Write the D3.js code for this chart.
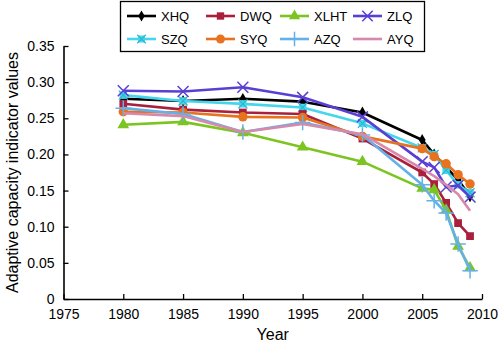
<!DOCTYPE html>
<html>
<head>
<meta charset="utf-8">
<script src="https://cdn.jsdelivr.net/npm/d3@7"></script>
<style>
  body { margin: 0; background: #fff; }
  text { font-family: "Liberation Sans", Arial, sans-serif; }
</style>
</head>
<body>
<div id="chart"></div>
<script>
// years on the x axis
const years = [1980, 1985, 1990, 1995, 2000, 2005, 2006, 2007, 2008, 2009];

// indicator values per region
const XHQ  = [0.277, 0.274, 0.277, 0.273, 0.258, 0.220, 0.200, 0.182, 0.165, 0.142];
const DWQ  = [0.270, 0.262, 0.258, 0.256, 0.222, 0.175, 0.159, 0.133, 0.105, 0.087];
const XLHT = [0.241, 0.245, 0.230, 0.210, 0.190, 0.153, 0.151, 0.123, 0.073, 0.043];
const ZLQ  = [0.288, 0.287, 0.293, 0.279, 0.252, 0.190, 0.182, 0.155, 0.157, 0.141];
const SZQ  = [0.282, 0.274, 0.270, 0.265, 0.243, 0.209, 0.200, 0.178, 0.158, 0.147];
const SYQ  = [0.259, 0.258, 0.252, 0.251, 0.225, 0.208, 0.197, 0.187, 0.172, 0.159];
const AZQ  = [0.264, 0.256, 0.231, 0.244, 0.227, 0.158, 0.136, 0.119, 0.076, 0.039];
const AYQ  = [0.257, 0.253, 0.231, 0.242, 0.228, 0.180, 0.170, 0.158, 0.145, 0.122];

const xTicks = [1975, 1980, 1985, 1990, 1995, 2000, 2005, 2010];
const yTicks = [0, 0.05, 0.10, 0.15, 0.20, 0.25, 0.30, 0.35];

const series = [
  { name: "XHQ",  values: XHQ,  color: "#000000", marker: "diamond" },
  { name: "SZQ",  values: SZQ,  color: "#45d6ee", marker: "boxx" },
  { name: "ZLQ",  values: ZLQ,  color: "#5a3fd4", marker: "times" },
  { name: "DWQ",  values: DWQ,  color: "#a8203c", marker: "square" },
  { name: "SYQ",  values: SYQ,  color: "#e8731f", marker: "circle" },
  { name: "XLHT", values: XLHT, color: "#7cc41f", marker: "triangle" },
  { name: "AZQ",  values: AZQ,  color: "#63b1e8", marker: "plus" },
  { name: "AYQ",  values: AYQ,  color: "#d888aa", marker: "none" }
];

// legend layout order (two rows of four)
const legendOrder = ["XHQ", "DWQ", "XLHT", "ZLQ", "SZQ", "SYQ", "AZQ", "AYQ"];

const width = 500, height = 345;
const margin = { top: 46, right: 18, bottom: 46, left: 63.5 };

const svg = d3.select("#chart").append("svg")
  .attr("width", width)
  .attr("height", height);

const x = d3.scaleLinear().domain([1975, 2010]).range([margin.left, width - margin.right]);
const y = d3.scaleLinear().domain([0, 0.35]).range([height - margin.bottom, margin.top]);

// axes, ticks pointing inward
const xAxis = svg.append("g")
  .attr("transform", `translate(0,${height - margin.bottom})`)
  .call(d3.axisBottom(x).tickValues(xTicks).tickFormat(d3.format("d")).tickSizeInner(-5).tickSizeOuter(0).tickPadding(10));
const yAxis = svg.append("g")
  .attr("transform", `translate(${margin.left},0)`)
  .call(d3.axisLeft(y).tickValues(yTicks).tickFormat(d => d === 0 ? "0" : d3.format(".2f")(d)).tickSizeInner(-5).tickSizeOuter(0).tickPadding(9));

[xAxis, yAxis].forEach(g => {
  g.select(".domain").attr("stroke", "#000").attr("stroke-width", 1.6);
  g.selectAll(".tick line").attr("stroke", "#000").attr("stroke-width", 1.3);
  g.selectAll(".tick text").attr("fill", "#000").style("font-size", "14px")
    .style("font-family", "'Liberation Sans', Arial, sans-serif");
});

// axis titles
svg.append("text")
  .attr("x", (margin.left + width - margin.right) / 2)
  .attr("y", 340)
  .attr("text-anchor", "middle")
  .style("font-size", "16px")
  .text("Year");

svg.append("text")
  .attr("transform", `translate(18,${(margin.top + height - margin.bottom) / 2}) rotate(-90)`)
  .attr("text-anchor", "middle")
  .style("font-size", "16px")
  .text("Adaptive capacity indicator values");

const line = d3.line()
  .x((d, i) => x(years[i]))
  .y(d => y(d));

function drawMarker(g, type, color, cx, cy, scale) {
  const s = scale || 1;
  const t = `translate(${cx},${cy})`;
  if (type === "diamond") {
    g.append("path").attr("transform", t).attr("d", d3.symbol(d3.symbolDiamond, 40 * s)()).attr("fill", color);
  } else if (type === "square") {
    g.append("path").attr("transform", t).attr("d", d3.symbol(d3.symbolSquare, 60 * s)()).attr("fill", color);
  } else if (type === "triangle") {
    g.append("path").attr("transform", t).attr("d", d3.symbol(d3.symbolTriangle, 60 * s)()).attr("fill", color);
  } else if (type === "circle") {
    g.append("path").attr("transform", t).attr("d", d3.symbol(d3.symbolCircle, 70 * s)()).attr("fill", color);
  } else if (type === "times") {
    g.append("path").attr("transform", t).attr("d", d3.symbol(d3.symbolTimes, 80 * s)())
      .attr("fill", "none").attr("stroke", color).attr("stroke-width", 1.5);
  } else if (type === "plus") {
    g.append("path").attr("transform", t).attr("d", d3.symbol(d3.symbolPlus, 80 * s)())
      .attr("fill", "none").attr("stroke", color).attr("stroke-width", 1.5);
  } else if (type === "boxx") {
    g.append("path").attr("transform", t).attr("d", d3.symbol(d3.symbolSquare, 55 * s)()).attr("fill", color);
    g.append("path").attr("transform", t).attr("d", d3.symbol(d3.symbolTimes, 55 * s)())
      .attr("fill", "none").attr("stroke", "#2bb8cf").attr("stroke-width", 1.2);
  }
}

// lines and markers
series.forEach(s => {
  const g = svg.append("g");
  g.append("path")
    .datum(s.values)
    .attr("d", line)
    .attr("fill", "none")
    .attr("stroke", s.color)
    .attr("stroke-width", 2.6)
    .attr("stroke-linejoin", "round");
  s.values.forEach((v, i) => drawMarker(g, s.marker, s.color, x(years[i]), y(v)));
});

// legend
const legend = svg.append("g");
legend.append("rect")
  .attr("x", 120.5).attr("y", 1.5)
  .attr("width", 304).attr("height", 50)
  .attr("fill", "#fff").attr("stroke", "#000").attr("stroke-width", 1.3);

const colX = [127, 206, 280, 353];
const rowY = [16, 39];
legendOrder.forEach((name, k) => {
  const s = series.find(d => d.name === name);
  const cx = colX[k % 4], cy = rowY[Math.floor(k / 4)];
  legend.append("line")
    .attr("x1", cx).attr("x2", cx + 29)
    .attr("y1", cy).attr("y2", cy)
    .attr("stroke", s.color).attr("stroke-width", 2.6);
  drawMarker(legend, s.marker, s.color, cx + 14.5, cy, 0.9);
  legend.append("text")
    .attr("x", cx + 34).attr("y", cy + 5)
    .style("font-size", "13px")
    .text(name);
});
</script>
</body>
</html>
